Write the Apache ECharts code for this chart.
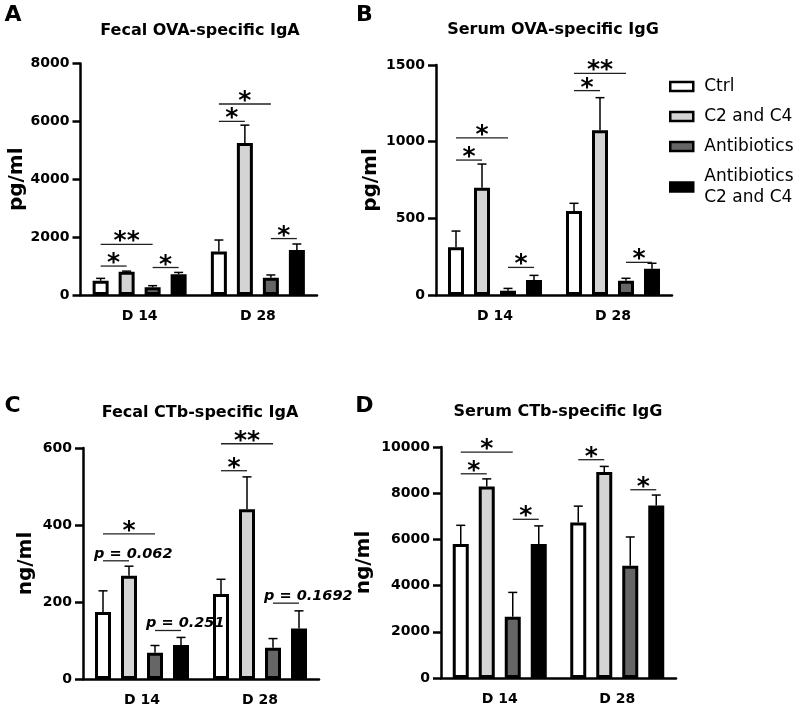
<!DOCTYPE html>
<html><head><meta charset="utf-8">
<script src="https://cdn.jsdelivr.net/npm/echarts@6/dist/echarts.min.js"></script>
<style>html,body{margin:0;padding:0;background:#fff}#c{width:800px;height:713px}</style>
</head><body><div id="c"></div>
<script>
// ---------- data ----------
const categories = ['D 14', 'D 28'];
const groupNames = ['Ctrl', 'C2 and C4', 'Antibiotics', 'Antibiotics\nC2 and C4'];
const groupColors = ['#ffffff', '#d4d4d4', '#666666', '#000000'];

const panelTitles = ['Fecal OVA-specific IgA', 'Serum OVA-specific IgG', 'Fecal CTb-specific IgA', 'Serum CTb-specific IgG'];
const panelLetters = ['A', 'B', 'C', 'D'];
const yUnits = ['pg/ml', 'pg/ml', 'ng/ml', 'ng/ml'];
const yMax = [8000, 1500, 600, 10000];
const yStep = [2000, 500, 200, 2000];

// rows = groups (Ctrl, C2 and C4, Antibiotics, Antibiotics C2 and C4), cols = D 14, D 28
const fecalOvaMean = [[490, 1500], [805, 5250], [265, 600], [713, 1555]];
const fecalOvaErr  = [[85, 400], [20, 620], [57, 92], [67, 207]];
const serumOvaMean = [[311, 548], [700, 1074], [28, 93], [98, 172]];
const serumOvaErr  = [[106, 50], [154, 213], [15, 16], [30, 35]];
const fecalCtbMean = [[174, 221], [268, 441], [68, 81], [88, 131]];
const fecalCtbErr  = [[55, 38], [25, 84], [19, 24], [20, 46]];
const serumCtbMean = [[5800, 6730], [8290, 8915], [2650, 4860], [5800, 7470]];
const serumCtbErr  = [[810, 710], [330, 245], [1055, 1245], [785, 450]];

// significance: [day index, y value, from group, to group, label]
const fecalOvaSig = [[0, 1750, 0, 2, '**'], [0, 1000, 0, 1, '*'], [0, 950, 2, 3, '*'],
                     [1, 6600, 0, 2, '*'], [1, 6000, 0, 1, '*'], [1, 1950, 2, 3, '*']];
const serumOvaSig = [[0, 1025, 0, 2, '*'], [0, 880, 0, 1, '*'], [0, 180, 2, 3, '*'],
                     [1, 1445, 0, 2, '**'], [1, 1333, 0, 1, '*'], [1, 213, 2, 3, '*']];
const fecalCtbSig = [[0, 377, 0, 2, '*'], [0, 307, 0, 1, 'p = 0.062'], [0, 126, 2, 3, 'p = 0.251'],
                     [1, 611, 0, 2, '**'], [1, 541, 0, 1, '*'], [1, 197, 2, 3, 'p = 0.1692']];
const serumCtbSig = [[0, 9780, 0, 2, '*'], [0, 8840, 0, 1, '*'], [0, 6870, 2, 3, '*'],
                     [1, 9450, 0, 1, '*'], [1, 8150, 2, 3, '*']];

const panelMeans = [fecalOvaMean, serumOvaMean, fecalCtbMean, serumCtbMean];
const panelErrs = [fecalOvaErr, serumOvaErr, fecalCtbErr, serumCtbErr];
const panelSigs = [fecalOvaSig, serumOvaSig, fecalCtbSig, serumCtbSig];

// ---------- layout / style ----------
const FONT = '"DejaVu Sans", sans-serif';
const BAR_W = 16, BAR_STEP = 26;
const grids = [
  {left: 80.5, top: 63.5, width: 236.5, height: 231.5},
  {left: 436, top: 65, width: 236, height: 230},
  {left: 83, top: 448, width: 236, height: 231},
  {left: 441, top: 447, width: 235, height: 231}
];
const nameGaps = [44, 55, 47, 67];
const titlePos = [[200, 30.5], [553, 29.5], [200, 413], [558, 411.5]];
const letterPos = [[13, 15], [364.5, 15], [12.5, 406.5], [364.5, 406.5]];

function errRender(k) {
  return function (params, api) {
    const cat = api.value(0), v = api.value(1), e = api.value(2);
    const p0 = api.coord([cat, v]);
    const p1 = api.coord([cat, v + e]);
    const x = p0[0] + (k - 1.5) * BAR_STEP;
    const st = {stroke: '#000', lineWidth: 1.5};
    return {type: 'group', children: [
      {type: 'line', shape: {x1: x, y1: p0[1], x2: x, y2: p1[1]}, style: st},
      {type: 'line', shape: {x1: x - 4.5, y1: p1[1], x2: x + 4.5, y2: p1[1]}, style: st}
    ]};
  };
}

function sigRender(list) {
  return function (params, api) {
    const a = list[params.dataIndex];
    const c = api.coord([a[0], a[1]]);
    const x1 = c[0] + (a[2] - 1.5) * BAR_STEP;
    const x2 = c[0] + (a[3] - 1.5) * BAR_STEP;
    const isP = a[4].charAt(0) === 'p';
    const txt = isP
      ? {type: 'text', x: x1 - 9, y: c[1] + 0.5, style: {text: a[4], font: 'italic bold 14.5px ' + FONT, fill: '#000', align: 'left', verticalAlign: 'bottom'}}
      : {type: 'text', x: (x1 + x2) / 2, y: c[1] - 2.5, style: {text: a[4], font: 'bold 25px ' + FONT, fill: '#000', align: 'center', verticalAlign: 'middle'}};
    return {type: 'group', children: [
      {type: 'line', shape: {x1: x1, y1: c[1], x2: x2, y2: c[1]}, style: {stroke: '#222', lineWidth: 1.3}},
      txt
    ]};
  };
}

const xAxes = [], yAxes = [], series = [], graphics = [];
const axisLineStyle = {color: '#000', width: 2.5};
for (let i = 0; i < 4; i++) {
  xAxes.push({
    gridIndex: i, type: 'category', data: categories,
    axisLine: {lineStyle: axisLineStyle},
    axisTick: {alignWithLabel: true, length: 9, lineStyle: axisLineStyle},
    axisLabel: {color: '#000', fontFamily: FONT, fontWeight: 'bold', fontSize: 14, margin: 14},
    splitLine: {show: false}
  });
  yAxes.push({
    gridIndex: i, type: 'value', min: 0, max: yMax[i], interval: yStep[i],
    axisLine: {show: true, lineStyle: axisLineStyle},
    axisTick: {show: true, length: 8, lineStyle: axisLineStyle},
    axisLabel: {color: '#000', fontFamily: FONT, fontWeight: 'bold', fontSize: 14, margin: 11,
                formatter: function (v) { return String(v); }},
    splitLine: {show: false},
    name: yUnits[i], nameLocation: 'middle', nameGap: nameGaps[i],
    nameTextStyle: {color: '#000', fontFamily: FONT, fontWeight: 'bold', fontSize: 20}
  });
  for (let k = 0; k < 4; k++) {
    series.push({
      type: 'bar', name: groupNames[k], xAxisIndex: i, yAxisIndex: i,
      data: panelMeans[i][k], barWidth: BAR_W, barGap: '62.5%',
      itemStyle: {color: groupColors[k], borderColor: '#000', borderWidth: 3},
      silent: true, z: 2
    });
  }
  for (let k = 0; k < 4; k++) {
    series.push({
      type: 'custom', xAxisIndex: i, yAxisIndex: i, clip: false, silent: true, z: 3,
      renderItem: errRender(k),
      data: categories.map((c, d) => [d, panelMeans[i][k][d], panelErrs[i][k][d]])
    });
  }
  series.push({
    type: 'custom', xAxisIndex: i, yAxisIndex: i, clip: false, silent: true, z: 4,
    renderItem: sigRender(panelSigs[i]),
    data: panelSigs[i].map(a => [a[0], a[1]])
  });
  graphics.push({type: 'text', x: titlePos[i][0], y: titlePos[i][1],
    style: {text: panelTitles[i], font: 'bold 16px ' + FONT, fill: '#000', align: 'center', verticalAlign: 'middle'}});
  graphics.push({type: 'text', x: letterPos[i][0], y: letterPos[i][1],
    style: {text: panelLetters[i], font: 'bold 22px ' + FONT, fill: '#000', align: 'center', verticalAlign: 'middle'}});
}

const chart = echarts.init(document.getElementById('c'), null, {renderer: 'canvas'});
chart.setOption({
  animation: false,
  backgroundColor: '#fff',
  grid: grids,
  xAxis: xAxes,
  yAxis: yAxes,
  legend: {
    orient: 'vertical', left: 664, top: 71, icon: 'rect',
    itemWidth: 23, itemHeight: 9, itemGap: 9, selectedMode: false,
    data: groupNames,
    itemStyle: {borderColor: '#000', borderWidth: 2.5},
    textStyle: {fontFamily: FONT, fontSize: 17, color: '#000', lineHeight: 21, padding: [0, 0, 0, 6]}
  },
  graphic: graphics,
  series: series
});
</script>
</body></html>
